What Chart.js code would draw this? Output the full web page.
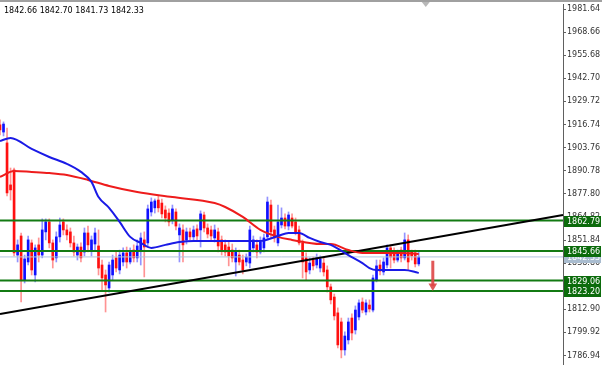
<!DOCTYPE html>
<html lang="en">
<head>
<meta charset="UTF-8">
<title>XAUUSD H1</title>
<style>
  body { margin: 0; background: #fff; }
</style>
</head>
<body>
<script src="https://cdn.jsdelivr.net/npm/chart.js@4.4.0/dist/chart.umd.min.js"></script>
<canvas id="chart" width="602" height="365"></canvas>
<script>
    // candles, oldest first
    const opens = [
        1916.5,1912.5,1906.4,1882.8,1891.2,1843.4,1854.1,1829.4,1839.5,1850.2,
        1832.2,1849.1,1843.4,1856.4,1862.0,1850.2,1841.8,1853.6,1862.0,1857.5,
        1856.4,1850.2,1843.4,1847.9,1845.1,1855.8,1846.2,1849.6,1848.5,1837.8,
        1832.2,1824.9,1832.2,1841.8,1835.0,1839.5,1844.6,1839.5,1846.2,1841.8,
        1846.2,1851.9,1850.2,1867.6,1869.9,1874.3,1872.6,1868.7,1867.0,1863.1,
        1867.6,1854.7,1857.5,1851.9,1856.4,1853.6,1858.1,1857.5,1865.9,1858.6,
        1857.5,1853.0,1856.4,1851.9,1849.1,1847.9,1846.2,1839.5,1843.4,1840.6,
        1839.5,1838.9,1847.4,1849.1,1845.1,1847.4,1853.6,1871.5,1857.5,1850.2,
        1860.3,1864.2,1859.7,1864.2,1862.0,1857.5,1850.2,1841.8,1835.0,1840.6,
        1837.8,1836.1,1838.9,1835.0,1825.5,1819.8,1810.9,1805.8,1790.1,1795.7,
        1808.0,1801.3,1808.6,1817.0,1811.4,1815.3,1812.5,1829.4,1837.8,1833.9,
        1837.8,1847.4,1845.1,1840.6,1846.2,1841.8,1851.9,1845.1,1844.6,1838.4
    ];
    const highs = [
        1919.3,1918.2,1914.8,1892.3,1892.3,1851.9,1855.8,1843.4,1854.1,1851.9,
        1849.1,1853.0,1863.7,1863.7,1863.7,1851.9,1856.4,1864.2,1863.7,1860.3,
        1858.6,1854.1,1849.6,1850.2,1858.6,1859.7,1854.1,1858.6,1857.5,1840.6,
        1835.0,1839.5,1843.4,1845.1,1846.2,1847.4,1847.9,1847.4,1849.1,1851.9,
        1855.8,1856.4,1871.5,1875.5,1874.9,1876.6,1874.9,1871.0,1869.3,1871.5,
        1869.3,1860.9,1860.3,1858.6,1858.6,1859.7,1860.3,1868.2,1867.6,1860.9,
        1859.7,1860.3,1858.6,1854.1,1851.9,1850.7,1849.6,1847.4,1846.2,1843.4,
        1844.0,1859.7,1854.1,1851.9,1853.6,1855.2,1876.0,1874.3,1859.7,1871.5,
        1869.9,1866.5,1867.6,1866.5,1864.2,1859.7,1851.9,1844.6,1841.8,1842.3,
        1844.0,1842.9,1841.8,1837.3,1827.1,1821.5,1813.7,1808.0,1800.2,1808.0,
        1810.3,1814.8,1818.2,1819.3,1818.2,1818.2,1832.2,1840.6,1840.6,1841.8,
        1849.1,1849.1,1847.4,1846.2,1847.9,1855.8,1854.7,1846.2,1846.2,1845.1
    ];
    const lows = [
        1910.9,1910.3,1876.6,1874.3,1842.9,1839.5,1817.0,1827.7,1837.8,1832.2,
        1828.3,1839.5,1841.8,1851.9,1847.4,1836.1,1839.5,1850.7,1854.7,1851.9,
        1847.9,1842.9,1840.6,1839.5,1842.9,1845.1,1842.9,1846.2,1832.2,1823.8,
        1811.4,1822.6,1829.4,1833.9,1832.8,1837.3,1836.1,1838.4,1839.5,1839.5,
        1837.8,1831.1,1848.5,1865.3,1867.0,1867.6,1864.2,1862.0,1859.7,1860.9,
        1857.5,1839.5,1839.5,1849.6,1851.9,1851.9,1851.9,1847.9,1856.4,1853.0,
        1851.9,1850.7,1845.1,1843.4,1842.9,1837.3,1839.5,1831.6,1837.8,1832.8,
        1837.3,1836.1,1845.1,1841.8,1844.0,1845.1,1851.9,1853.0,1850.7,1848.5,
        1858.6,1858.1,1857.5,1858.6,1854.7,1849.1,1830.5,1829.4,1832.8,1835.0,
        1836.1,1833.9,1831.6,1822.6,1815.9,1806.9,1791.2,1785.6,1787.2,1793.4,
        1795.7,1799.0,1806.9,1810.9,1809.7,1811.4,1811.4,1828.3,1832.2,1832.2,
        1836.1,1836.1,1838.9,1839.5,1839.5,1840.6,1835.0,1840.6,1836.7,1837.3
    ];
    const closes = [
        1913.7,1917.0,1878.3,1880.0,1844.6,1849.1,1829.4,1841.2,1851.9,1835.0,
        1847.4,1843.4,1857.5,1862.0,1850.2,1840.6,1853.6,1860.3,1857.5,1854.7,
        1850.2,1845.1,1847.9,1841.8,1855.8,1849.1,1851.9,1855.8,1836.1,1830.5,
        1826.6,1837.8,1840.6,1836.1,1843.4,1844.6,1839.5,1845.1,1841.8,1848.5,
        1853.0,1847.9,1869.3,1873.2,1873.8,1869.9,1866.5,1864.2,1862.0,1869.3,
        1859.7,1858.6,1849.1,1856.4,1853.6,1857.5,1854.1,1866.5,1858.6,1855.2,
        1854.1,1857.5,1848.5,1846.2,1845.1,1842.9,1841.8,1845.1,1839.5,1835.0,
        1842.3,1857.5,1851.9,1845.1,1850.7,1853.0,1873.2,1856.4,1853.0,1862.0,
        1864.2,1859.7,1865.9,1859.7,1856.4,1850.2,1839.5,1833.9,1838.9,1837.3,
        1841.8,1841.2,1833.9,1825.5,1818.2,1809.2,1792.9,1790.1,1797.9,1805.8,
        1799.6,1812.5,1816.5,1812.5,1816.5,1813.1,1830.5,1837.3,1834.4,1839.5,
        1847.4,1842.3,1840.6,1845.1,1841.8,1851.9,1839.5,1842.9,1838.4,1842.33
    ];

    // moving averages: [bar index, price]
    const fastMA = [
        [0,1907.5],[3,1909.2],[9,1903.0],[14,1898.5],[19,1894.6],[23,1890.1],[26,1884.5],
        [28,1876.0],[31,1869.9],[34,1862.0],[37,1853.6],[40,1850.2],[43,1847.4],[47,1849.1],
        [51,1850.7],[55,1851.3],[61,1851.3],[74,1851.3],[79,1854.1],[82,1855.8],[85,1855.8],
        [88,1853.0],[91,1850.7],[94,1849.1],[99,1843.4],[103,1838.9],[105,1836.1],[107,1835.0],
        [111,1835.0],[115,1835.0],[118,1833.9],[119,1833.3]
    ];
    const slowMA = [
        [0,1887.3],[4,1890.6],[9,1890.1],[14,1889.5],[19,1888.4],[25,1885.6],[31,1882.2],
        [39,1878.8],[49,1876.0],[61,1872.6],[64,1870.4],[69,1864.8],[74,1857.5],[79,1853.6],
        [83,1851.9],[88,1850.2],[91,1849.6],[94,1849.6],[99,1846.2],[103,1844.6],[109,1844.6],
        [114,1844.6],[119,1844.0]
    ];
    const trendLine = [[0,1810.3],[160,1865.9]];
    const levels = [1862.79, 1845.66, 1829.06, 1823.20];
    const bid = 1842.33;
    const arrowFrom = 1840.2, arrowTo = 1826.0, arrowBar = 123;
    const ohlcText = ['1842.66', '1842.70', '1841.73', '1842.33'];
    const yTicks = [1981.64,1968.66,1955.68,1942.70,1929.72,1916.74,1903.76,1890.78,
        1877.80,1864.82,1851.84,1838.86,1825.88,1812.90,1799.92,1786.94];

    const SLOTS = 161;
    const labels = Array.from({length: SLOTS}, (_, i) => String(i));

    function sparse(pairs) {
        const arr = new Array(SLOTS).fill(null);
        pairs.forEach(([i, v]) => { arr[i] = v; });
        return arr;
    }

    const up = opens.map((o, i) => closes[i] >= o);
    const bodyColors = up.map(u => u ? '#1010ff' : '#ff1010');
    const wickColors = up.map(u => u ? 'rgba(40,40,255,0.5)' : 'rgba(255,40,40,0.5)');

    const levelSets = levels.map(v => ({
        type: 'line',
        data: sparse([[0, v], [SLOTS - 1, v]]),
        borderColor: '#137a13',
        borderWidth: 2,
        pointRadius: 0,
        spanGaps: true,
        order: 4
    }));

    const overlay = {
        id: 'overlay',
        afterDraw(chart) {
            const c = chart.ctx, ys = chart.scales.y, area = chart.chartArea;
            c.save();
            c.font = '8px "DejaVu Sans"';
            c.textBaseline = 'middle';
            c.textAlign = 'left';
            const box = (v, bg) => {
                const py = Math.round(ys.getPixelForValue(v));
                c.fillStyle = bg;
                c.fillRect(area.right + 1, py - 5, 37, 11);
                c.fillStyle = '#fff';
                c.fillText(v.toFixed(2), area.right + 4, py + 0.5);
            };
            box(bid, '#a9bccf');
            levels.forEach(v => box(v, '#0b6b0b'));

            c.fillStyle = '#000';
            c.fillText(ohlcText.join(' '), 4, 11);

            // top frame strip and shift marker
            c.fillStyle = '#a0a0a0';
            c.fillRect(0, 0, chart.width, 2);
            const mx = chart.scales.x.getPixelForValue(121);
            c.fillStyle = '#b8b8b8';
            c.beginPath();
            c.moveTo(mx - 4, 2); c.lineTo(mx + 4, 2); c.lineTo(mx, 7);
            c.closePath(); c.fill();
            c.restore();
        }
    };

    new Chart(document.getElementById('chart'), {
        type: 'bar',
        data: {
            labels: labels,
            datasets: [
                {
                    type: 'line',
                    data: [{x: String(arrowBar), y: arrowFrom}, {x: String(arrowBar), y: arrowTo}],
                    borderColor: 'rgba(222,70,70,0.9)',
                    borderWidth: 3,
                    pointRadius: [0, 5],
                    pointStyle: 'triangle',
                    rotation: 180,
                    pointBackgroundColor: 'rgba(222,70,70,0.9)',
                    pointBorderWidth: 0,
                    order: 0
                },
                {
                    type: 'line',
                    data: sparse(fastMA),
                    borderColor: '#1a1ae6',
                    borderWidth: 2,
                    pointRadius: 0,
                    spanGaps: true,
                    cubicInterpolationMode: 'monotone',
                    order: 1
                },
                {
                    type: 'line',
                    data: sparse(slowMA),
                    borderColor: '#ee1c1c',
                    borderWidth: 2,
                    pointRadius: 0,
                    spanGaps: true,
                    cubicInterpolationMode: 'monotone',
                    order: 2
                },
                {
                    type: 'line',
                    data: sparse(trendLine),
                    borderColor: '#000',
                    borderWidth: 2,
                    pointRadius: 0,
                    spanGaps: true,
                    order: 3
                },
                ...levelSets,
                {
                    type: 'line',
                    data: sparse([[0, bid], [SLOTS - 1, bid]]),
                    borderColor: '#b0c4de',
                    borderWidth: 1,
                    pointRadius: 0,
                    spanGaps: true,
                    order: 5
                },
                {
                    data: opens.map((o, i) => [o, closes[i]]),
                    backgroundColor: bodyColors,
                    borderWidth: 0,
                    barThickness: 2,
                    grouped: false,
                    order: 6
                },
                {
                    data: lows.map((l, i) => [l, highs[i]]),
                    backgroundColor: wickColors,
                    borderWidth: 0,
                    barThickness: 1,
                    grouped: false,
                    order: 7
                }
            ]
        },
        options: {
            responsive: false,
            animation: false,
            devicePixelRatio: 1,
            layout: { autoPadding: false, padding: { top: 4, left: 0, right: 0, bottom: 0 } },
            plugins: { legend: { display: false }, tooltip: { enabled: false } },
            scales: {
                x: {
                    display: false,
                    offset: false,
                    grid: { offset: false }
                },
                y: {
                    position: 'right',
                    min: 1781.61,
                    max: 1984.45,
                    afterBuildTicks: s => { s.ticks = yTicks.map(v => ({value: v})); },
                    afterFit: s => { s.width = 39; s.paddingTop = 0; s.paddingBottom = 0; },
                    border: { display: true, color: '#606060', width: 1 },
                    grid: { drawOnChartArea: false, tickLength: 3, color: '#606060' },
                    ticks: {
                        autoSkip: false,
                        padding: 1,
                        color: '#333',
                        font: { family: 'DejaVu Sans', size: 8, lineHeight: 1 },
                        callback: v => v.toFixed(2)
                    }
                }
            }
        },
        plugins: [overlay]
    });
</script>
</body>
</html>
